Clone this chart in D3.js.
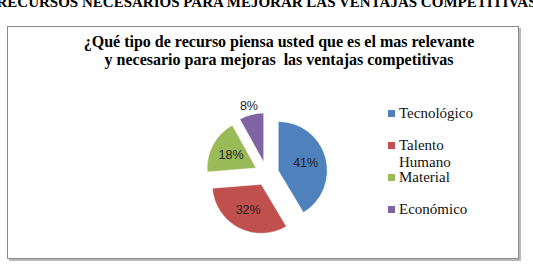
<!DOCTYPE html>
<html><head><meta charset="utf-8">
<script src="https://cdn.jsdelivr.net/npm/d3@7"></script>
<style>
body{margin:0;background:#fff}svg{display:block}
svg text{font-family:"Liberation Serif","Times New Roman",Tinos,serif}
svg text.lab{font-family:"Liberation Sans",Arial,sans-serif}
</style>
</head><body><svg id="c" width="533" height="274" font-family="serif"></svg>
<script>
const pageTitle = "RECURSOS NECESARIOS PARA MEJORAR LAS VENTAJAS COMPETITIVAS";
const chartTitle = ["¿Qué tipo de recurso piensa usted que es el mas relevante", "y necesario para mejoras  las ventajas competitivas"];
const categories = ["Tecnológico", "Talento Humano", "Material", "Económico"];
const legendLines = [["Tecnológico"], ["Talento", "Humano"], ["Material"], ["Económico"]];
const values = [41, 32, 18, 8];
const colors = ["#4F81BD", "#C0504D", "#9BBB59", "#8064A2"];

const svg = d3.select("#c");

svg.append("text").attr("x", 266.5).attr("y", 7).attr("text-anchor", "middle")
  .attr("font-size", 13.6).attr("font-weight", "bold")
  .attr("textLength", 540).attr("lengthAdjust", "spacingAndGlyphs")
  .text(pageTitle);

svg.append("rect").attr("x", 9).attr("y", 28).attr("width", 512).attr("height", 233).attr("fill", "#b8b8b8");
svg.append("rect").attr("x", 7.5).attr("y", 26.5).attr("width", 511).attr("height", 232)
  .attr("fill", "#fff").attr("stroke", "#8c8c8c").attr("stroke-width", 1);

chartTitle.forEach((l, i) => svg.append("text")
  .attr("x", 279).attr("y", 47 + i * 18).attr("text-anchor", "middle")
  .attr("font-size", 16).attr("font-weight", "bold")
  .style("white-space", "pre").attr("fill", "#000").text(l));

const cx = 266.7, cy = 173.7, r = 49, explode = 12;
const pie = d3.pie().sort(null).value(d => d)(values);
const arc = d3.arc().innerRadius(0).outerRadius(r);
const total = d3.sum(values);
const g = svg.append("g").attr("transform", `translate(${cx},${cy})`);
pie.forEach((p, i) => {
  const m = (p.startAngle + p.endAngle) / 2;
  const dx = Math.sin(m) * explode, dy = -Math.cos(m) * explode;
  const sg = g.append("g").attr("transform", `translate(${dx},${dy})`);
  sg.append("path").attr("d", arc(p)).attr("fill", colors[i]).attr("stroke", "#fff").attr("stroke-width", 0.5);
  const lr = values[i] / total < 0.1 ? r * 1.2 : r * 0.58;
  sg.append("text").attr("class", "lab").attr("x", Math.sin(m) * lr).attr("y", -Math.cos(m) * lr)
    .attr("dy", "0.35em").attr("text-anchor", "middle")
    .attr("font-size", 12.5).attr("fill", "#222").text(values[i] + "%");
});

let y = 118;
legendLines.forEach((lines, i) => {
  svg.append("rect").attr("x", 388).attr("y", y - 8).attr("width", 7).attr("height", 7).attr("fill", colors[i]);
  lines.forEach((l, j) => svg.append("text")
    .attr("x", 399).attr("y", y + j * 17)
    .attr("font-size", 15).attr("fill", "#111").text(l));
  y += 32;
});
</script></body></html>
